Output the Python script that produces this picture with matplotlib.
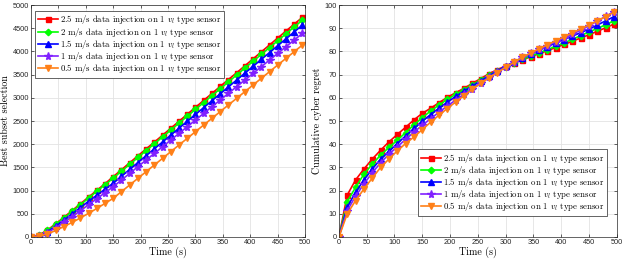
import numpy as np
import matplotlib.pyplot as plt

plt.rcParams['mathtext.fontset'] = 'cm'
plt.rcParams['axes.formatter.use_mathtext'] = False

time = np.arange(0, 500, 15)

speeds = ['2.5', '2', '1.5', '1', '0.5']
colors = ['#ff0000', '#00ff00', '#0000ff', '#8020ff', '#ff8018']
markers = ['s', 'D', '^', '*', 'v']
marker_sizes = [3.6, 3.3, 4.2, 5.8, 4.4]

# best subset selection
best_25 = [0, 45, 150, 285, 425, 570, 715, 860, 1005, 1150, 1300, 1450, 1600, 1750,
           1900, 2045, 2195, 2345, 2495, 2645, 2795, 2945, 3095, 3245, 3395, 3540,
           3690, 3840, 3990, 4140, 4290, 4440, 4590, 4735]
best_2 = [0, 40, 140, 270, 410, 550, 695, 840, 985, 1125, 1270, 1418, 1566, 1714,
          1862, 2011, 2159, 2307, 2455, 2603, 2751, 2899, 3047, 3195, 3343, 3492,
          3640, 3788, 3936, 4084, 4232, 4380, 4528, 4676]
best_15 = [0, 30, 115, 235, 365, 500, 635, 770, 900, 1030, 1160, 1308, 1456, 1605,
           1753, 1901, 2049, 2197, 2346, 2494, 2642, 2790, 2938, 3087, 3235, 3383,
           3531, 3679, 3828, 3976, 4124, 4272, 4420, 4569]
best_1 = [0, 25, 95, 200, 315, 440, 565, 695, 825, 955, 1085, 1229, 1372, 1516,
          1660, 1803, 1947, 2091, 2234, 2378, 2522, 2665, 2809, 2953, 3096, 3240,
          3384, 3527, 3671, 3815, 3958, 4102, 4246, 4390]
best_05 = [0, 20, 65, 140, 225, 315, 410, 510, 615, 725, 834, 978, 1121, 1265,
           1409, 1552, 1696, 1840, 1984, 2127, 2271, 2415, 2558, 2702, 2846, 2989,
           3133, 3277, 3420, 3564, 3708, 3851, 3995, 4138]

# cumulative cyber regret
regret_25 = [0, 18.1, 24.6, 29.3, 33.6, 37.4, 41.0, 44.2, 47.3, 50.5, 53.3, 55.5,
             57.9, 60.2, 62.2, 64.1, 66.2, 68.3, 70.4, 72.1, 73.8, 75.0, 76.4, 77.7,
             79.0, 80.3, 81.7, 83.0, 84.4, 85.8, 87.2, 88.7, 90.2, 91.8]
regret_2 = [0, 15.3, 21.4, 27.1, 31.4, 35.3, 38.6, 41.7, 45.0, 48.3, 51.5, 54.3,
            56.9, 59.3, 61.5, 63.5, 65.6, 67.7, 69.8, 71.7, 73.5, 75.1, 76.6, 78.0,
            79.4, 80.8, 82.2, 83.7, 85.2, 86.8, 88.4, 89.9, 91.5, 93.2]
regret_15 = [0, 12.9, 19.3, 24.6, 29.3, 33.6, 36.9, 40.3, 43.6, 46.8, 49.9, 52.8,
             55.5, 58.1, 60.6, 62.9, 65.1, 67.3, 69.5, 71.6, 73.6, 75.5, 77.2, 78.9,
             80.5, 82.1, 83.6, 85.1, 86.6, 88.1, 89.6, 91.4, 93.2, 95.0]
regret_1 = [0, 11.4, 17.6, 22.9, 27.7, 32.0, 35.7, 38.9, 42.1, 45.2, 48.2, 51.0,
            53.8, 56.5, 59.0, 61.5, 64.0, 66.4, 68.8, 71.1, 73.4, 75.5, 77.4, 79.2,
            80.9, 82.5, 84.1, 85.7, 87.4, 89.2, 91.1, 93.1, 95.1, 97.2]
regret_05 = [0, 10.0, 15.7, 20.7, 25.4, 30.0, 33.6, 37.1, 40.3, 43.1, 46.3, 49.5,
             52.5, 55.4, 58.2, 60.9, 63.6, 66.2, 68.6, 70.9, 73.1, 75.3, 77.4, 79.3,
             81.1, 82.9, 84.6, 86.3, 88.0, 89.7, 91.4, 93.2, 95.0, 96.9]

best = [best_25, best_2, best_15, best_1, best_05]
regret = [regret_25, regret_2, regret_15, regret_1, regret_05]

tick_color = '#262626'


def style_axes(ax_loc, ylabel):
    ax_loc.set_xlim(0, 500)
    ax_loc.set_xticks(np.arange(0, 501, 50))
    ax_loc.grid(True, color='#e3e3e3', linewidth=0.6)
    ax_loc.set_axisbelow(True)
    ax_loc.tick_params(direction='in', top=True, right=True, length=2.5, width=0.5,
                       labelsize=5.3, colors=tick_color, pad=1.5)
    for lab in ax_loc.get_xticklabels() + ax_loc.get_yticklabels():
        lab.set_fontfamily('Liberation Sans')
    for s in ax_loc.spines.values():
        s.set_linewidth(0.5)
        s.set_color(tick_color)
    ax_loc.set_xlabel('Time (s)', fontfamily='cmr10', fontsize=7.2, labelpad=0.5)
    ax_loc.set_ylabel(ylabel, fontfamily='cmr10', fontsize=7.2, labelpad=2)


def draw_series(ax_loc, series):
    for sp, vals, c, m, ms in zip(speeds, series, colors, markers, marker_sizes):
        ax_loc.plot(time, vals, color=c, marker=m, markersize=ms, linewidth=1.2,
                    markerfacecolor=c, markeredgecolor=c,
                    label=sp + r' m/s data injection on 1 $v_l$ type sensor')


def add_legend(ax_loc, loc, anchor):
    leg = ax_loc.legend(loc=loc, bbox_to_anchor=anchor,
                        prop={'family': 'cmr10', 'size': 6.3}, fancybox=False,
                        edgecolor='#262626', framealpha=1, borderpad=0.3,
                        labelspacing=-0.1, handlelength=2.3, handletextpad=0.2,
                        borderaxespad=0)
    leg.get_frame().set_linewidth(0.5)


fig = plt.figure(figsize=(6.23, 2.6), dpi=100)
ax1 = fig.add_axes([0.0498, 0.0885, 0.44, 0.892])
ax2 = fig.add_axes([0.544, 0.0885, 0.446, 0.892])

draw_series(ax1, best)
ax1.set_ylim(0, 5000)
ax1.set_yticks(np.arange(0, 5001, 500))
style_axes(ax1, 'Best subset selection')
add_legend(ax1, 'upper left', (0.015, 0.975))

draw_series(ax2, regret)
ax2.set_ylim(0, 100)
ax2.set_yticks(np.arange(0, 101, 10))
style_axes(ax2, 'Cumulative cyber regret')
add_legend(ax2, 'lower right', (0.965, 0.09))

fig.savefig('out.png', dpi=100)
